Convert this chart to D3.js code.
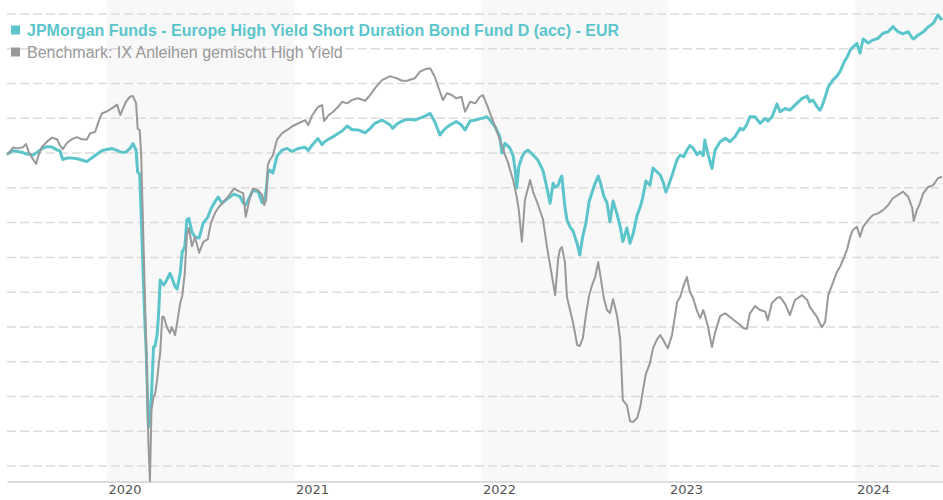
<!DOCTYPE html>
<html>
<head>
<meta charset="utf-8">
<script src="https://cdn.jsdelivr.net/npm/d3@7"></script>
<style>
	body { margin: 0; background: #fff; }
</style>
</head>
<body>
<div id="chart"></div>
<script>
// Fonds vs. Benchmark, 5 Jahre
const fundName = "JPMorgan Funds - Europe High Yield Short Duration Bond Fund D (acc) - EUR";
const benchName = "Benchmark: IX Anleihen gemischt High Yield";
const yearLabels = ["2020", "2021", "2022", "2023", "2024"];
const shadedYears = ["2020", "2022", "2024"];
const gridValues = [82, 84, 86, 88, 90, 92, 94, 96, 98, 100, 102, 104, 106, 108];

const dates = [
	"2019-06-20","2019-07-02","2019-07-11","2019-07-21","2019-07-27","2019-08-02","2019-08-10","2019-08-16","2019-08-19","2019-08-27",
	"2019-09-06","2019-09-16","2019-09-26","2019-10-01","2019-10-07","2019-10-15","2019-10-25","2019-11-04","2019-11-13","2019-11-23",
	"2019-11-29","2019-12-09","2019-12-15","2019-12-22","2020-01-01","2020-01-11","2020-01-21","2020-01-27","2020-02-01","2020-02-07",
	"2020-02-15","2020-02-21","2020-02-27","2020-03-01","2020-03-05","2020-03-08","2020-03-11","2020-03-15","2020-03-18","2020-03-22",
	"2020-03-25","2020-03-28","2020-04-01","2020-04-04","2020-04-08","2020-04-11","2020-04-14","2020-04-18","2020-04-21","2020-04-27",
	"2020-05-03","2020-05-07","2020-05-13","2020-05-17","2020-05-23","2020-05-27","2020-06-01","2020-06-05","2020-06-09","2020-06-15",
	"2020-06-21","2020-06-29","2020-07-07","2020-07-16","2020-07-22","2020-07-30","2020-08-05","2020-08-13","2020-08-24","2020-09-05",
	"2020-09-17","2020-09-23","2020-09-28","2020-10-06","2020-10-12","2020-10-22","2020-10-30","2020-11-03","2020-11-07","2020-11-10",
	"2020-11-14","2020-11-20","2020-11-28","2020-12-08","2020-12-18","2020-12-27","2021-01-08","2021-01-22","2021-01-28","2021-02-04",
	"2021-02-16","2021-02-24","2021-02-28","2021-03-08","2021-03-17","2021-03-27","2021-04-04","2021-04-14","2021-04-23","2021-05-05",
	"2021-05-19","2021-05-29","2021-06-07","2021-06-21","2021-07-07","2021-07-12","2021-07-20","2021-07-30","2021-08-09","2021-08-24",
	"2021-09-03","2021-09-13","2021-09-23","2021-10-02","2021-10-12","2021-10-18","2021-10-26","2021-11-04","2021-11-13","2021-11-23",
	"2021-11-30","2021-12-10","2021-12-20","2021-12-29","2022-01-04","2022-01-12","2022-01-18","2022-01-28","2022-02-06","2022-02-10",
	"2022-02-16","2022-02-22","2022-02-26","2022-03-04","2022-03-08","2022-03-11","2022-03-15","2022-03-21","2022-03-27","2022-04-02",
	"2022-04-06","2022-04-12","2022-04-21","2022-05-01","2022-05-09","2022-05-15","2022-05-21","2022-05-25","2022-05-31","2022-06-03",
	"2022-06-07","2022-06-13","2022-06-17","2022-06-23","2022-06-29","2022-07-07","2022-07-12","2022-07-18","2022-07-24","2022-07-30",
	"2022-08-05","2022-08-11","2022-08-17","2022-08-22","2022-08-28","2022-09-03","2022-09-09","2022-09-15","2022-09-23","2022-09-29",
	"2022-10-04","2022-10-12","2022-10-18","2022-10-24","2022-11-01","2022-11-07","2022-11-12","2022-11-18","2022-11-26","2022-12-02",
	"2022-12-10","2022-12-16","2022-12-22","2022-12-27","2022-12-31","2023-01-08","2023-01-18","2023-01-24","2023-01-31","2023-02-06",
	"2023-02-12","2023-02-18","2023-02-26","2023-03-04","2023-03-10","2023-03-13","2023-03-19","2023-03-27","2023-04-02","2023-04-12",
	"2023-04-22","2023-05-01","2023-05-11","2023-05-21","2023-05-27","2023-06-03","2023-06-09","2023-06-19","2023-06-29","2023-07-09",
	"2023-07-14","2023-07-22","2023-08-01","2023-08-07","2023-08-17","2023-08-26","2023-09-05","2023-09-19","2023-09-29","2023-10-04",
	"2023-10-10","2023-10-18","2023-10-24","2023-10-28","2023-11-03","2023-11-09","2023-11-18","2023-11-26","2023-12-02","2023-12-10",
	"2023-12-16","2023-12-22","2023-12-27","2024-01-04","2024-01-10","2024-01-16","2024-01-26","2024-02-04","2024-02-14","2024-02-24",
	"2024-03-05","2024-03-14","2024-03-24","2024-04-03","2024-04-13","2024-04-21","2024-04-24","2024-04-30","2024-05-06","2024-05-12",
	"2024-05-22","2024-06-01","2024-06-10","2024-06-18"
];

const fundValues = [
	99.93,100.14,100.09,100.03,99.96,99.93,99.89,100.00,100.07,100.26,
	100.37,100.35,100.17,100.14,99.63,99.71,99.71,99.67,99.60,99.51,
	99.65,99.86,99.99,100.13,100.21,100.26,100.15,100.07,100.04,100.06,
	100.27,100.54,100.17,98.91,98.79,96.38,93.73,90.39,88.38,84.24,
	84.64,86.08,88.84,88.90,89.53,90.80,92.70,92.50,92.41,92.70,
	93.08,92.81,92.32,92.18,93.08,94.31,94.61,96.15,96.25,95.46,
	95.17,95.11,95.97,96.32,96.78,97.21,97.47,97.12,97.39,97.64,
	97.49,97.14,97.01,97.49,97.85,97.79,97.15,97.22,97.87,98.85,
	99.02,98.85,99.83,100.17,100.27,100.09,100.26,100.33,100.15,100.43,
	100.84,100.48,100.63,100.79,100.93,101.12,101.27,101.56,101.36,101.33,
	101.17,101.42,101.71,101.90,101.61,101.42,101.67,101.84,101.94,101.90,
	102.01,102.13,102.28,101.80,101.04,101.27,101.50,101.67,101.82,101.61,
	101.33,101.84,101.90,101.97,102.01,102.09,101.90,101.50,100.94,100.00,
	100.56,100.40,100.27,99.83,99.02,97.99,99.22,99.77,100.06,100.17,
	100.06,99.89,99.60,99.02,97.99,97.11,98.26,98.04,98.16,98.45,
	98.68,96.91,96.15,95.76,95.51,94.77,94.14,95.23,95.97,97.18,
	97.73,98.26,98.68,98.22,97.53,97.15,96.05,97.24,96.46,95.76,
	94.91,95.69,94.81,95.34,96.43,96.91,97.44,98.39,98.16,99.14,
	98.91,98.74,98.31,97.76,98.02,98.71,99.63,99.89,99.79,100.17,
	100.43,100.29,99.91,100.07,99.86,100.75,99.97,99.11,100.17,100.65,
	100.85,100.65,100.94,101.42,101.33,101.64,102.09,102.09,101.71,102.00,
	101.84,102.07,102.82,102.38,102.57,102.47,102.76,103.15,103.28,102.95,
	103.05,102.67,102.47,102.70,103.22,103.80,104.20,104.43,104.68,105.24,
	105.53,105.93,106.10,106.31,105.75,106.56,106.33,106.50,106.60,106.89,
	106.98,107.27,106.99,106.85,106.98,106.62,106.56,106.73,106.85,106.96,
	107.25,107.46,107.94,107.65
];

const benchValues = [
	99.89,100.32,100.27,100.33,100.52,100.03,99.63,99.37,99.74,100.35,
	100.66,100.89,100.78,100.46,100.23,100.58,100.81,100.92,100.79,100.78,
	101.13,101.22,101.75,102.28,102.39,102.59,102.79,102.19,102.53,102.95,
	103.24,103.28,102.86,101.41,101.32,99.83,96.43,91.95,88.55,83.32,
	81.13,85.22,85.97,86.14,86.95,87.81,88.50,90.59,90.59,89.99,
	89.65,89.99,89.53,90.22,91.37,91.78,93.10,95.29,95.69,94.65,
	95.17,94.27,94.88,95.05,95.97,96.55,96.84,97.12,97.47,97.96,
	97.77,97.70,96.34,97.41,97.96,97.87,97.58,97.01,97.30,99.31,
	99.60,99.86,100.78,101.15,101.33,101.53,101.70,101.90,101.61,102.13,
	102.65,102.76,101.84,102.16,102.36,102.65,102.95,102.86,103.05,103.15,
	103.01,103.34,103.72,104.20,104.43,104.37,104.30,104.16,104.16,104.30,
	104.68,104.82,104.88,104.39,103.53,103.05,103.44,103.34,103.15,103.24,
	102.38,102.95,102.86,103.24,103.34,102.76,102.28,101.52,100.75,100.46,
	99.89,99.45,99.02,98.45,97.87,97.47,96.72,94.90,97.30,97.99,
	98.45,97.76,97.07,96.21,94.60,93.56,92.53,91.83,93.96,94.42,
	94.60,93.73,91.72,90.97,90.22,88.96,88.90,89.36,90.68,91.78,
	92.41,92.87,93.73,92.81,91.66,90.97,90.80,91.60,90.62,89.25,
	85.79,85.50,84.58,84.53,84.76,85.39,86.31,87.29,87.92,88.78,
	89.30,89.53,89.25,88.96,88.78,89.53,91.43,91.72,92.41,92.87,
	92.01,91.66,90.91,90.51,90.97,90.68,90.05,88.84,89.65,90.62,
	90.78,90.57,90.34,90.11,89.94,89.88,90.78,91.20,90.97,90.88,
	90.39,91.37,91.66,91.72,91.31,90.68,91.55,91.83,91.55,91.15,
	90.91,90.57,90.17,89.99,90.30,91.83,92.53,93.16,93.46,94.02,
	94.48,95.19,95.57,95.76,95.19,95.75,96.15,96.43,96.53,96.72,
	97.01,97.40,97.59,97.78,97.49,96.84,96.09,96.72,97.11,97.67,
	98.05,98.16,98.55,98.64
];

drawChart();

function drawChart() {
	const parse = d3.timeParse("%Y-%m-%d");
	const width = 943, height = 500;
	const plotLeft = 7, plotRight = 943, plotTop = 14, plotBottom = 466, axisY = 481.5;

	const fund = dates.map((d, i) => ({date: parse(d), value: fundValues[i]}));
	const bench = dates.map((d, i) => ({date: parse(d), value: benchValues[i]}));

	const svg = d3.select("#chart")
				  .append("svg")
				  .attr("width", width)
				  .attr("height", height)
				  .style("font-family", "'Liberation Sans', Arial, sans-serif");

	const x = d3.scaleTime()
				.domain([parse("2019-06-20"), parse("2024-06-20")])
				.range([plotLeft, plotRight]);

	const y = d3.scaleLinear()
				.domain([82, 108])
				.range([plotBottom, plotTop]);

	// shaded years
	svg.append("g")
	   .selectAll("rect")
	   .data(shadedYears)
	   .enter()
	   .append("rect")
	   .attr("x", d => x(parse(d + "-01-01")))
	   .attr("y", 0)
	   .attr("width", d => Math.min(x(parse((+d + 1) + "-01-01")), plotRight) - x(parse(d + "-01-01")))
	   .attr("height", axisY)
	   .attr("fill", "#f8f8f8");

	// dashed grid
	svg.append("g")
	   .selectAll("line")
	   .data(gridValues)
	   .enter()
	   .append("line")
	   .attr("x1", plotLeft)
	   .attr("x2", plotRight)
	   .attr("y1", d => y(d))
	   .attr("y2", d => y(d))
	   .attr("stroke", "#dcdcdc")
	   .attr("stroke-width", 1.5)
	   .attr("stroke-dasharray", "9,4");

	// x axis
	const xAxis = svg.append("g")
					 .attr("transform", `translate(0,${axisY})`)
					 .call(d3.axisBottom(x)
							 .tickValues(yearLabels.map(d => parse(d + "-01-01")))
							 .tickFormat(d3.timeFormat("%Y"))
							 .tickSize(0)
							 .tickSizeOuter(0));
	xAxis.select(".domain")
		 .attr("stroke", "#dddddd")
		 .attr("stroke-width", 2);
	xAxis.selectAll("text")
		 .attr("text-anchor", "start")
		 .attr("x", 1)
		 .attr("y", 12.5)
		 .attr("dy", 0)
		 .style("font-family", "'DejaVu Sans', sans-serif")
		 .style("font-size", "13px")
		 .attr("fill", "#555");

	const line = d3.line()
				   .x(d => x(d.date))
				   .y(d => y(d.value));

	svg.append("path")
	   .datum(fund)
	   .attr("fill", "none")
	   .attr("stroke", "#5cc5cc")
	   .attr("stroke-width", 3)
	   .attr("stroke-linejoin", "round")
	   .attr("d", line);

	svg.append("path")
	   .datum(bench)
	   .attr("fill", "none")
	   .attr("stroke", "#999999")
	   .attr("stroke-width", 2)
	   .attr("stroke-linejoin", "round")
	   .attr("d", line);

	// legend
	const legend = [
		{name: fundName, color: "#5cc5cc", weight: "bold", y: 35.5},
		{name: benchName, color: "#999999", weight: "normal", y: 57.5}
	];
	const lg = svg.append("g");
	lg.selectAll("rect")
	  .data(legend)
	  .enter()
	  .append("rect")
	  .attr("x", 11)
	  .attr("y", d => d.y - 10)
	  .attr("width", 9)
	  .attr("height", 9)
	  .attr("fill", d => d.color);
	lg.selectAll("text")
	  .data(legend)
	  .enter()
	  .append("text")
	  .attr("x", 27)
	  .attr("y", d => d.y)
	  .style("font-size", "16px")
	  .style("font-weight", d => d.weight)
	  .attr("fill", d => d.color)
	  .text(d => d.name);
}
</script>
</body>
</html>
